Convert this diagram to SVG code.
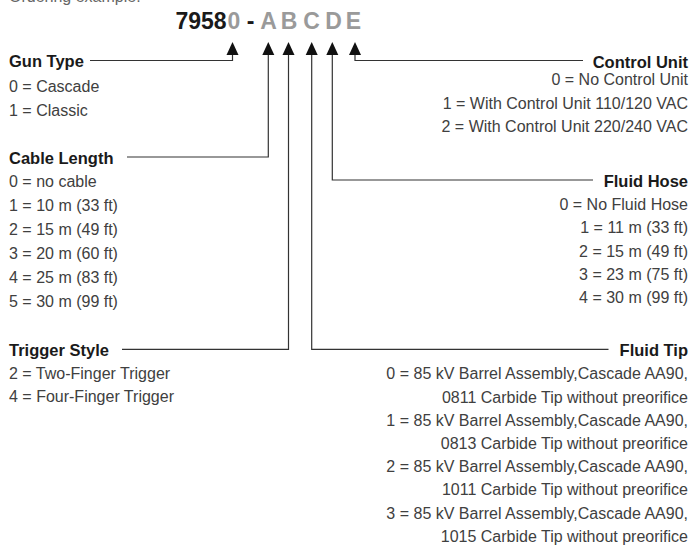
<svg xmlns="http://www.w3.org/2000/svg" xmlns:xlink="http://www.w3.org/1999/xlink" width="692" height="551" viewBox="0 0 692 551">
  <style>
    text { font-family: "Liberation Sans", Arial, sans-serif; }
    .hd { font-size: 16.5px; font-weight: bold; fill: #1a1a1a; }
    .bd { font-size: 16px; fill: #404040; }
    .r { text-anchor: end; }
    .pn { font-size: 23px; font-weight: bold; text-anchor: middle; }
    .blk { fill: #1a1a1a; }
    .gry { fill: #9a9a9a; }
    .ln { fill: none; stroke: #333; stroke-width: 1.2; }
    .ah { fill: #111; }
    .cut { font-size: 16px; fill: #666; }
  </style>
  <defs>
    <polygon id="ah" class="ah" points="0,0 -6,13 6,13"/>
  </defs>
  <rect width="692" height="551" fill="#ffffff"/>

  <text class="cut" x="9" y="1.5">Ordering example:</text>

  <g id="part-number">
    <text class="pn blk" x="201" y="29">7958</text>
    <text class="pn gry" x="234" y="29">0</text>
    <text class="pn blk" x="250.5" y="29">-</text>
    <text class="pn gry" x="268.5" y="29">A</text>
    <text class="pn gry" x="289" y="29">B</text>
    <text class="pn gry" x="311.5" y="29">C</text>
    <text class="pn gry" x="333.5" y="29">D</text>
    <text class="pn gry" x="353.5" y="29">E</text>
  </g>

  <g id="connectors">
    <path class="ln" d="M232.5 55 V60.5 H90"/>
    <path class="ln" d="M268.3 55 V157 H127"/>
    <path class="ln" d="M288.5 55 V349.3 H122"/>
    <path class="ln" d="M311.7 55 V349.3 H608.5"/>
    <path class="ln" d="M332.3 55 V180 H593"/>
    <path class="ln" d="M355 55 V60.5 H583"/>
    <use xlink:href="#ah" x="232.5" y="42"/>
    <use xlink:href="#ah" x="268.3" y="42"/>
    <use xlink:href="#ah" x="288.5" y="42"/>
    <use xlink:href="#ah" x="311.7" y="42"/>
    <use xlink:href="#ah" x="332.3" y="42"/>
    <use xlink:href="#ah" x="355" y="42"/>
  </g>

  <g id="gun-type">
    <text class="hd" x="9" y="67">Gun Type</text>
    <text class="bd" x="9" y="92">0 = Cascade</text>
    <text class="bd" x="9" y="115.5">1 = Classic</text>
  </g>

  <g id="cable-length">
    <text class="hd" x="9" y="163.5">Cable Length</text>
    <text class="bd" x="9" y="187">0 = no cable</text>
    <text class="bd" x="9" y="211">1 = 10 m (33 ft)</text>
    <text class="bd" x="9" y="235">2 = 15 m (49 ft)</text>
    <text class="bd" x="9" y="259">3 = 20 m (60 ft)</text>
    <text class="bd" x="9" y="283">4 = 25 m (83 ft)</text>
    <text class="bd" x="9" y="307">5 = 30 m (99 ft)</text>
  </g>

  <g id="trigger-style">
    <text class="hd" x="9" y="355.5">Trigger Style</text>
    <text class="bd" x="9" y="378.5">2 = Two-Finger Trigger</text>
    <text class="bd" x="9" y="402">4 = Four-Finger Trigger</text>
  </g>

  <g id="control-unit">
    <text class="hd r" x="688" y="67.5">Control Unit</text>
    <text class="bd r" x="688" y="85">0 = No Control Unit</text>
    <text class="bd r" x="688" y="108.5">1 = With Control Unit 110/120 VAC</text>
    <text class="bd r" x="688" y="132">2 = With Control Unit 220/240 VAC</text>
  </g>

  <g id="fluid-hose">
    <text class="hd r" x="688" y="187">Fluid Hose</text>
    <text class="bd r" x="688" y="210">0 = No Fluid Hose</text>
    <text class="bd r" x="688" y="233.3">1 = 11 m (33 ft)</text>
    <text class="bd r" x="688" y="256.7">2 = 15 m (49 ft)</text>
    <text class="bd r" x="688" y="280">3 = 23 m (75 ft)</text>
    <text class="bd r" x="688" y="303.3">4 = 30 m (99 ft)</text>
  </g>

  <g id="fluid-tip">
    <text class="hd r" x="688" y="355.5">Fluid Tip</text>
    <text class="bd r" x="688" y="379.3">0 = 85 kV Barrel Assembly,Cascade AA90,</text>
    <text class="bd r" x="688" y="402.7">0811 Carbide Tip without preorifice</text>
    <text class="bd r" x="688" y="425.7">1 = 85 kV Barrel Assembly,Cascade AA90,</text>
    <text class="bd r" x="688" y="449">0813 Carbide Tip without preorifice</text>
    <text class="bd r" x="688" y="472">2 = 85 kV Barrel Assembly,Cascade AA90,</text>
    <text class="bd r" x="688" y="495.3">1011 Carbide Tip without preorifice</text>
    <text class="bd r" x="688" y="518.7">3 = 85 kV Barrel Assembly,Cascade AA90,</text>
    <text class="bd r" x="688" y="542">1015 Carbide Tip without preorifice</text>
  </g>
</svg>
